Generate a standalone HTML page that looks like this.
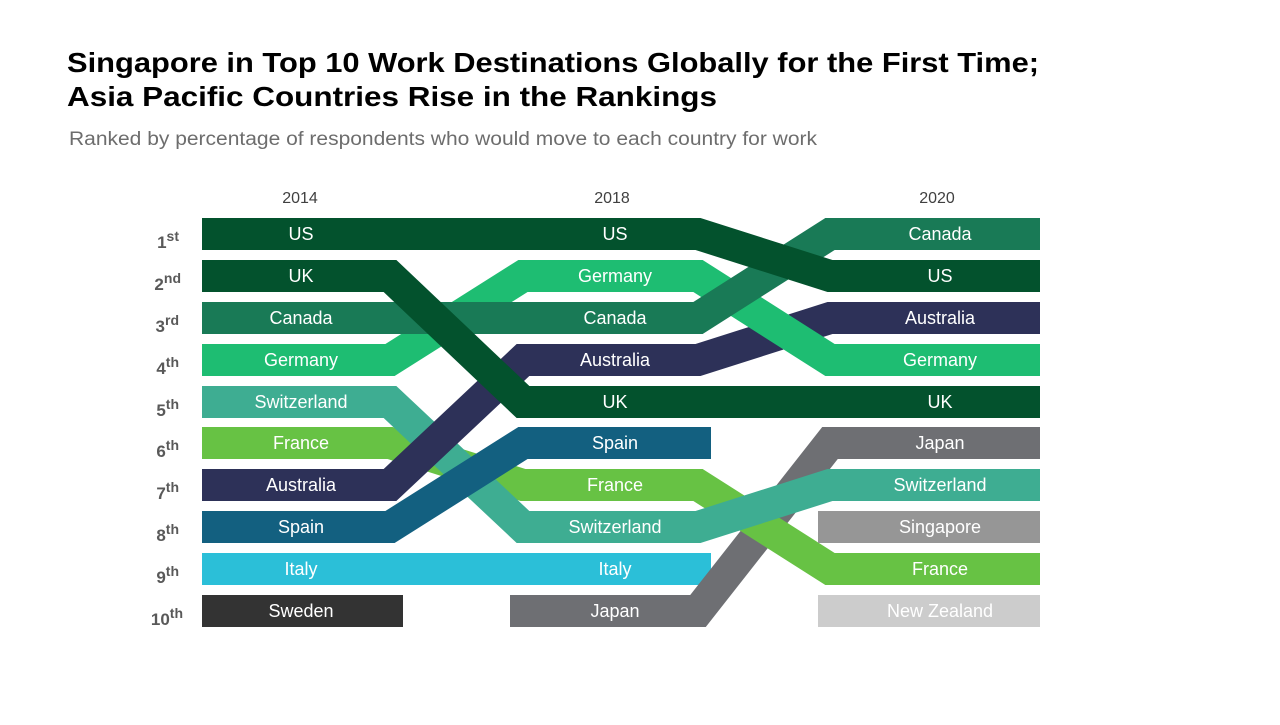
<!DOCTYPE html>
<html><head><meta charset="utf-8"><style>
body{margin:0;background:#fff;width:1280px;height:720px;overflow:hidden;font-family:"Liberation Sans",sans-serif}
</style></head><body>
<svg width="1280" height="720" xmlns="http://www.w3.org/2000/svg" font-family="Liberation Sans, sans-serif">
<text x="67" y="72" font-size="28" font-weight="bold" fill="#000" textLength="972" lengthAdjust="spacingAndGlyphs">Singapore in Top 10 Work Destinations Globally for the First Time;</text>
<text x="67" y="106" font-size="28" font-weight="bold" fill="#000" textLength="650" lengthAdjust="spacingAndGlyphs">Asia Pacific Countries Rise in the Rankings</text>
<text x="69" y="145" font-size="19" fill="#6d6d6d" textLength="748" lengthAdjust="spacingAndGlyphs">Ranked by percentage of respondents who would move to each country for work</text>
<g font-size="16" fill="#404040" text-anchor="middle">
<text x="300" y="203">2014</text><text x="612" y="203">2018</text><text x="937" y="203">2020</text>
</g>
<g font-size="17" font-weight="bold" fill="#595959" text-anchor="end">
<text x="179" y="248">1<tspan dy="-7" font-size="14">st</tspan></text>
<text x="181" y="290">2<tspan dy="-7" font-size="14">nd</tspan></text>
<text x="179" y="332">3<tspan dy="-7" font-size="14">rd</tspan></text>
<text x="179" y="374">4<tspan dy="-7" font-size="14">th</tspan></text>
<text x="179" y="416">5<tspan dy="-7" font-size="14">th</tspan></text>
<text x="179" y="457">6<tspan dy="-7" font-size="14">th</tspan></text>
<text x="179" y="499">7<tspan dy="-7" font-size="14">th</tspan></text>
<text x="179" y="541">8<tspan dy="-7" font-size="14">th</tspan></text>
<text x="179" y="583">9<tspan dy="-7" font-size="14">th</tspan></text>
<text x="183" y="625">10<tspan dy="-7" font-size="14">th</tspan></text>
</g>
<g fill="none" stroke-width="32" stroke-linejoin="miter" stroke-miterlimit="10" stroke-linecap="butt">
<polyline stroke="#2bbfd8" points="202,569 711,569"/>
<polyline stroke="#6e6f73" points="510,611 698,611 830,443 1040,443"/>
<polyline stroke="#67c244" points="202,443 390,443 523,485 698,485 830,569 1040,569"/>
<polyline stroke="#3ead92" points="202,402 390,402 523,527 698,527 830,485 1040,485"/>
<polyline stroke="#136080" points="202,527 390,527 523,443 711,443"/>
<polyline stroke="#2d3158" points="202,485 390,485 523,360 698,360 830,318 1040,318"/>
<polyline stroke="#1ebd72" points="202,360 390,360 523,276 698,276 830,360 1040,360"/>
<polyline stroke="#197a56" points="202,318 698,318 830,234 1040,234"/>
<polyline stroke="#03522d" points="202,276 390,276 523,402 1040,402"/>
<polyline stroke="#03522d" points="202,234 698,234 830,276 1040,276"/>
<polyline stroke="#333333" points="202,611 403,611"/>
<polyline stroke="#969696" points="818,527 1040,527"/>
<polyline stroke="#cccccc" points="818,611 1040,611"/>
</g>
<g font-size="18" fill="#fff" text-anchor="middle">
<text x="301" y="240">US</text><text x="301" y="282">UK</text><text x="301" y="324">Canada</text><text x="301" y="366">Germany</text><text x="301" y="408">Switzerland</text><text x="301" y="449">France</text><text x="301" y="491">Australia</text><text x="301" y="533">Spain</text><text x="301" y="575">Italy</text><text x="301" y="617">Sweden</text>
<text x="615" y="240">US</text><text x="615" y="282">Germany</text><text x="615" y="324">Canada</text><text x="615" y="366">Australia</text><text x="615" y="408">UK</text><text x="615" y="449">Spain</text><text x="615" y="491">France</text><text x="615" y="533">Switzerland</text><text x="615" y="575">Italy</text><text x="615" y="617">Japan</text>
<text x="940" y="240">Canada</text><text x="940" y="282">US</text><text x="940" y="324">Australia</text><text x="940" y="366">Germany</text><text x="940" y="408">UK</text><text x="940" y="449">Japan</text><text x="940" y="491">Switzerland</text><text x="940" y="533">Singapore</text><text x="940" y="575">France</text><text x="940" y="617">New Zealand</text>
</g>
</svg>
</body></html>
